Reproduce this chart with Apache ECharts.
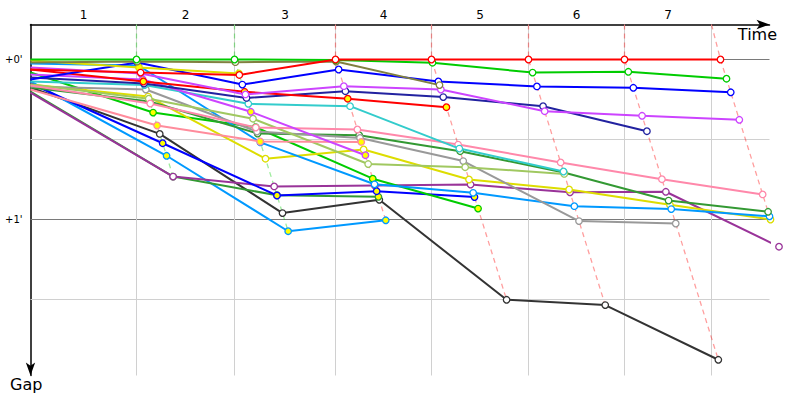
<!DOCTYPE html>
<html><head><meta charset="utf-8">
<script src="https://cdn.jsdelivr.net/npm/echarts@6/dist/echarts.min.js"></script>
<style>html,body{margin:0;padding:0;background:#fff}#c{width:800px;height:400px}</style>
</head><body><div id="c"></div>
<script>
// ---- data (seconds) ----
const lapLabels = ['1','2','3','4','5','6','7'];
const leaderTimes = [127.2, 244.8, 366.0, 481.2, 597.6, 712.8, 828.0];
const lapMarks = [127.2, 244.8, 366.0, 481.2, 597.6, 712.8, 817.2];
const gapTickValues = [0, 60];
const gapTickLabels = ["+0'", "+1'"];
const gapMajorLines = [0, 60];
const gapMinorLines = [30, 90];

// gaps: [start, lap1, lap2, ...]
const gapsRed        = [3.75, 4.9, 5.8, 0, 0, 0, 0, 0];
const gapsGreen      = [0, 0, 0, 0.2, 1.2, 4.9, 4.6, 7.2];
const gapsOlive      = [1.1, 0.75, 1.0, 0.75, 9.6];
const gapsBlue       = [7.5, 1.1, 9.4, 3.75, 8.25, 10.1, 10.6, 12.3];
const gapsViolet     = [3.0, 5.25, 13.1, 10.0, 11.25, 19.4, 21.1, 22.6];
const gapsRed2       = [3.75, 8.25, 12.1, 14.7, 17.9];
const gapsNavy       = [6.75, 9.0, 14.4, 11.9, 14.1, 17.5, 26.9];
const gapsCyan       = [8.25, 9.6, 16.6, 17.5, 33.4, 42.0];
const gapsViolet2    = [5.6, 7.5, 19.6, 35.9];
const gapsLightOlive = [9.4, 14.7, 22.2, 39.2, 40.4, 42.9];
const gapsGray       = [10.1, 11.25, 27.0, 29.4, 38.1, 60.6, 61.5];
const gapsPink       = [9.75, 16.5, 25.5, 26.25, 31.9, 38.6, 44.9, 50.6];
const gapsSalmon     = [11.25, 24.75, 30.75, 30.9];
const gapsYellowA    = [0.4, 3.0, 5.25];
const gapsYellowB    = [9.4, 13.9, 37.2, 33.75, 45.0, 48.75, 54.5, 60.0];
const gapsPurple     = [12.4, 43.9, 47.6, 47.25, 46.9, 49.8, 49.6, 70.2];
const gapsDarkGreenA = [12.0, 43.9, 50.9, 51.5];
const gapsBlue2      = [9.0, 31.4, 51.0, 49.4, 51.6];
const gapsBlack      = [10.5, 27.9, 57.6, 52.6, 90.1, 92.1, 112.6];
const gapsLightBlueA = [8.25, 36.1, 64.4, 60.3];
const gapsLightBlueB = [1.5, 2.25, 31.1, 46.8, 50.0, 55.0, 56.1, 58.8];
const gapsDarkGreenB = [10.5, 15.75, 27.75, 28.4, 34.4, 42.4, 52.9, 57.1];
const gapsGreen2     = [4.9, 19.9, 25.4, 44.7, 55.9];

// ---- styles ----
const Y = '#ffff00', W = '#ffffff';
const drivers = [
  {g: gapsBlack, c:'#333333', f:W},
  {g: gapsLightBlueA, c:'#0099ff', f:Y},
  {g: gapsDarkGreenA, c:'#339933', f:Y},
  {g: gapsPurple, c:'#993399', f:W},
  {g: gapsBlue2, c:'#0000ff', f:Y},
  {g: gapsGreen2, c:'#00cc00', f:Y},
  {g: gapsYellowB, c:'#dddd00', f:W},
  {g: gapsLightBlueB, c:'#0099ff', f:W},
  {g: gapsDarkGreenB, c:'#339933', f:W},
  {g: gapsGray, c:'#999999', f:W},
  {g: gapsLightOlive, c:'#a0c860', f:W},
  {g: gapsSalmon, c:'#ff8c9c', f:Y},
  {g: gapsPink, c:'#ff88aa', f:W},
  {g: gapsCyan, c:'#33cccc', f:W},
  {g: gapsViolet2, c:'#cc44ff', f:Y},
  {g: gapsNavy, c:'#2222a0', f:W},
  {g: gapsRed2, c:'#ff0000', f:Y},
  {g: gapsViolet, c:'#cc44ff', f:W},
  {g: gapsBlue, c:'#0000ff', f:W},
  {g: gapsYellowA, c:'#dddd00', f:Y},
  {g: gapsOlive, c:'#808040', f:W},
  {g: gapsGreen, c:'#00cc00', f:W},
  {g: gapsRed, c:'#ff0000', f:W}
];

const yMin = -13.125, yMax = 118.5, xMax = 886.8;

function hexA(hex, a){
  const n = parseInt(hex.slice(1),16);
  return 'rgba(' + (n>>16&255) + ',' + (n>>8&255) + ',' + (n&255) + ',' + a + ')';
}

const series = [];
// grid lines
gapMinorLines.forEach(v => series.push({type:'line', silent:true, symbol:'none', z:1,
  data:[[0,v],[xMax,v]], lineStyle:{color:'#d0d0d0', width:1}}));
gapMajorLines.forEach(v => series.push({type:'line', silent:true, symbol:'none', z:1,
  data:[[0,v],[xMax,v]], lineStyle:{color:'#7a7a7a', width:1}}));
lapMarks.forEach(v => series.push({type:'line', silent:true, symbol:'none', z:1,
  data:[[v,yMin],[v,yMax]], lineStyle:{color:'#d0d0d0', width:1}}));

// lap fronts (dashed)
lapLabels.forEach((l, k) => {
  const pts = [];
  let leader = null;
  drivers.forEach(d => {
    if (d.g.length > k + 1) {
      const g = d.g[k+1];
      pts.push([leaderTimes[k] + g, g]);
      if (!leader || g < leader.g) leader = {g, c:d.c};
    }
  });
  pts.sort((a,b) => a[1]-b[1]);
  pts.unshift([lapMarks[k], yMin]);
  series.push({type:'line', silent:true, symbol:'none', z:2, data:pts,
    lineStyle:{color:hexA(leader.c, 0.38), width:1.3, type:[5,4]}});
});

// drivers
drivers.forEach((d, i) => {
  const data = d.g.map((g, k) => k === 0 ? {value:[0, g], symbol:'none'} : [leaderTimes[k-1] + g, g]);
  series.push({type:'line', z:3 + i*0.01, data, symbol:'circle', symbolSize:6.5, showAllSymbol:true,
    clip:false,
    lineStyle:{color:d.c, width:2},
    itemStyle:{color:d.f, borderColor:d.c, borderWidth:1.3},
    emphasis:{disabled:true}});
});

const mids = lapMarks.map((m, i) => ((i ? lapMarks[i-1] : 0) + m) / 2);

const chart = echarts.init(document.getElementById('c'), null, {renderer:'svg'});
chart.setOption({
  animation:false,
  backgroundColor:'#fff',
  grid:{left:30.5, right:30.5, top:24.5, bottom:24.5},
  xAxis:{type:'value', position:'top', min:0, max:xMax,
    axisLine:{show:true, onZero:false, lineStyle:{color:'#000', width:1.5}, symbol:['none','arrow'], symbolSize:[7,13]},
    axisTick:{show:false}, splitLine:{show:false},
    axisLabel:{customValues:mids, margin:4, color:'#000', fontSize:12, fontFamily:'DejaVu Sans',
      formatter:v => { let bi=0; mids.forEach((m,i)=>{ if (Math.abs(m-v) < Math.abs(mids[bi]-v)) bi=i; }); return lapLabels[bi]; }}},
  yAxis:{type:'value', inverse:true, min:yMin, max:yMax,
    axisLine:{show:true, onZero:false, lineStyle:{color:'#000', width:1.5}, symbol:['arrow','none'], symbolSize:[7,13]},
    axisTick:{show:false}, splitLine:{show:false},
    axisLabel:{customValues:gapTickValues, margin:8, color:'#000', fontSize:10, fontFamily:'DejaVu Sans',
      formatter:v => gapTickLabels[gapTickValues.indexOf(v)]}},
  graphic:[
    {type:'text', right:23, top:26, style:{text:'Time', fontSize:16, fontFamily:'DejaVu Sans', fill:'#000'}},
    {type:'text', left:10, top:376, style:{text:'Gap', fontSize:16, fontFamily:'DejaVu Sans', fill:'#000'}}
  ],
  series
});
</script></body></html>
